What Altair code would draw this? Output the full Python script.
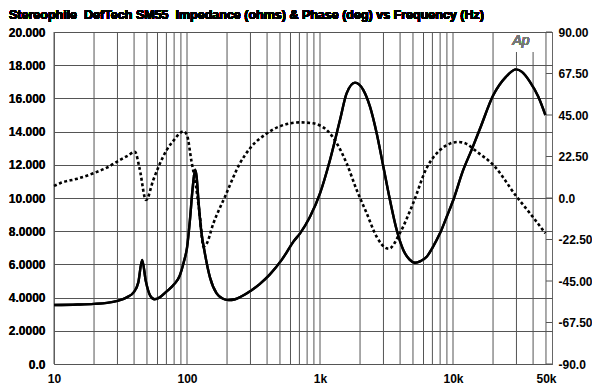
import altair as alt
import pandas as pd

# ---------------- data ----------------
imp_freq = [10, 15, 20, 25, 30, 35, 40, 43, 46, 49, 53, 57, 62, 70, 80, 88, 95, 100, 105, 110,
            115, 118, 122, 128, 136, 149, 167, 185, 205, 230, 260, 300, 350, 420, 515, 600, 631,
            708, 841, 1000, 1189, 1413, 1585, 1833, 2118, 2376, 2667, 2992, 3357, 3773, 4229,
            4700, 5176, 5700, 6340, 7000, 7980, 9000, 10050, 11940, 13800, 16000, 20100, 25000,
            29800, 33000, 37900, 43800, 49500]
imp_ohms = [3.55, 3.58, 3.62, 3.68, 3.8, 4.0, 4.35, 4.9, 6.27, 5.0, 4.1, 3.9, 4.0, 4.36, 4.8, 5.3,
            6.2, 7.0, 8.6, 10.5, 11.7, 11.3, 9.8, 8.0, 6.7, 5.2, 4.25, 3.95, 3.85, 3.9, 4.1, 4.4,
            4.8, 5.4, 6.27, 7.1, 7.37, 7.87, 8.87, 10.28, 12.29, 14.7, 16.3, 16.95, 16.5, 15.5,
            13.9, 11.9, 9.88, 8.07, 6.87, 6.3, 6.1, 6.2, 6.46, 7.0, 7.87, 8.9, 9.88, 11.69, 12.9,
            14.2, 16.2, 17.3, 17.75, 17.6, 17.0, 16.1, 15.0]

ph_freq = [10, 11.1, 15, 19.8, 25, 31.3, 36, 40.6, 44, 49.2, 55.8, 62, 70.3, 80, 88, 94, 100,
           108, 117, 125, 133, 140, 158, 193, 250, 298, 398, 594, 700, 891, 1000, 1122, 1336,
           1585, 1888, 2244, 2667, 3170, 3300, 3981, 5011, 6310, 7980, 9500, 10900, 12500,
           15100, 20100, 30100, 37900, 49500]
ph_deg = [6.5, 8.0, 10.5, 13.4, 16.5, 20.6, 23.0, 25.1, 16.0, -1.1, 9.8, 18.0, 26.0, 31.5, 35.0,
          36.2, 34.0, 20.0, 6.0, -10.0, -26.4, -25.0, -13.7, 0.7, 18.8, 27.0, 35.0, 40.5, 41.0,
          40.5, 39.3, 36.9, 29.7, 18.8, 4.3, -8.3, -21.0, -27.3, -27.5, -19.1, -2.9, 16.0, 26.0,
          29.5, 30.4, 29.5, 25.1, 17.9, 0.7, -8.3, -19.1]

grid_freqs = [10, 20, 30, 40, 50, 60, 70, 80, 90,
              100, 200, 300, 400, 500, 600, 700, 800, 900,
              1000, 2000, 3000, 4000, 5000, 6000, 7000, 8000, 9000,
              10000, 20000, 30000, 40000, 50000]
x_ticks = [10, 100, 1000, 10000, 50000]
x_labels = ["10", "100", "1k", "10k", "50k"]
imp_ticks = [0, 2, 4, 6, 8, 10, 12, 14, 16, 18, 20]
imp_labels = ["0.0", "2.0000", "4.0000", "6.0000", "8.0000", "10.000", "12.000", "14.000",
              "16.000", "18.000", "20.000"]
ph_ticks = [-90, -67.5, -45, -22.5, 0, 22.5, 45, 67.5, 90]
ph_labels = ["-90.0", "-67.50", "-45.00", "-22.50", "0.0", "22.50", "45.00", "67.50", "90.00"]

title_text = "Stereophile\u00a0\u00a0DefTech SM55\u00a0\u00a0Impedance (ohms) & Phase (deg) vs Frequency (Hz)"

FONT = "Liberation Sans"


def label_expr(vals, labels):
    expr = "''"
    for v, l in zip(reversed(vals), reversed(labels)):
        expr = f"(abs(datum.value - {v}) < 1e-6 ? '{l}' : {expr})"
    return expr


imp_df = pd.DataFrame({"f": imp_freq, "z": imp_ohms})
ph_df = pd.DataFrame({"f": ph_freq, "deg": ph_deg})
grid_df = pd.DataFrame({"f": grid_freqs})
tick_df = pd.DataFrame({"deg": ph_ticks})

xscale = alt.Scale(type="log", domain=[10, 55500], nice=False)
x_axis = alt.Axis(values=x_ticks, labelExpr=label_expr(x_ticks, x_labels), grid=False,
                  ticks=False, domain=False, title=None, labelFont=FONT, labelFontSize=12,
                  labelFontWeight="bold", labelColor="black", labelPadding=9, labelFlush=False)
X = alt.X("f:Q", scale=xscale, axis=x_axis)

imp_axis = alt.Axis(values=imp_ticks, labelExpr=label_expr(imp_ticks, imp_labels), grid=True,
                    gridColor="#555", gridWidth=1, ticks=False, domain=False, title=None,
                    labelFont=FONT, labelFontSize=12, labelFontWeight="bold",
                    labelColor="black", labelPadding=9, labelFlush=False, orient="left")
ph_axis = alt.Axis(values=ph_ticks, labelExpr=label_expr(ph_ticks, ph_labels), grid=False,
                   ticks=False, domain=False, title=None, labelFont=FONT, labelFontSize=12,
                   labelFontWeight="bold", labelColor="black", labelPadding=6,
                   labelFlush=False, orient="right")

grid = alt.Chart(grid_df).mark_rule(color="#555", strokeWidth=1).encode(x=X)

ap_bg = alt.Chart(grid_df).mark_rect(color="white").encode(
    x=alt.value(451), x2=alt.value(486), y=alt.value(1), y2=alt.value(20))
ap_txt = alt.Chart(grid_df).mark_text(text="Ap", font=FONT, fontSize=14, fontStyle="italic",
                                      fontWeight="normal", color="#777", align="center",
                                      baseline="alphabetic").encode(
    x=alt.value(467), y=alt.value(13))

title = alt.Chart(grid_df).mark_text(text=title_text, font=FONT, fontSize=12.5, fontWeight="bold",
                                     color="black", align="left", baseline="alphabetic").encode(
    x=alt.value(-45), y=alt.value(-13))

Yph = alt.Y("deg:Q", scale=alt.Scale(domain=[-90, 90], nice=False), axis=ph_axis)
ph_line = alt.Chart(ph_df).mark_line(color="black", strokeWidth=2.6, strokeDash=[3, 2.5],
                                     interpolate="monotone").encode(x=X, y=Yph)
ph_ticks_m = alt.Chart(tick_df).mark_rule(color="#555", strokeWidth=1).encode(
    y=Yph, x=alt.value(492), x2=alt.value(498))
phase = alt.layer(ph_ticks_m, ph_line)

imp_line = alt.Chart(imp_df).mark_line(color="black", strokeWidth=2.4,
                                       interpolate="monotone").encode(
    x=X, y=alt.Y("z:Q", scale=alt.Scale(domain=[0, 20], nice=False), axis=imp_axis))

chart = alt.layer(imp_line, grid, ap_bg, ap_txt, title, phase, imp_line).resolve_scale(
    y="independent"
).properties(
    width=498, height=332, autosize="none",
    padding={"left": 46, "top": 24, "right": 40, "bottom": 25},
).configure_view(stroke="#666", strokeWidth=1)

chart.save("out.html", embed_options={"renderer": "svg", "actions": False})
